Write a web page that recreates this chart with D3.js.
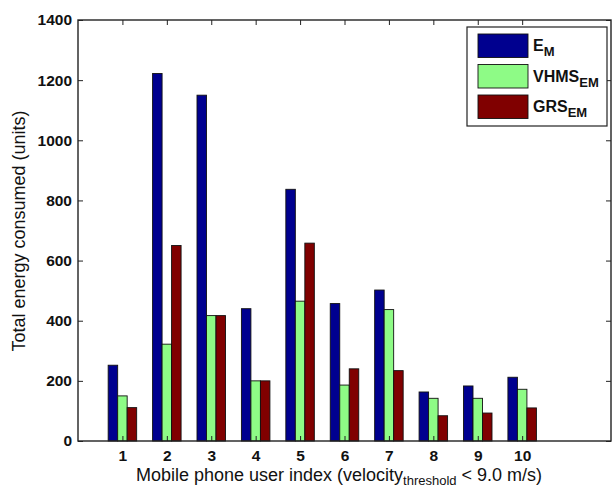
<!DOCTYPE html>
<html>
<head>
<meta charset="utf-8">
<script src="https://cdn.jsdelivr.net/npm/d3@7"></script>
<style>
  html, body { margin: 0; padding: 0; background: #fff; }
  svg { display: block; font-family: "Liberation Sans", Arial, Helvetica, sans-serif; }
</style>
</head>
<body>
<svg id="chart" width="612" height="489"></svg>
<script>
// Energy consumed per mobile phone user, three schemes
const users = [1, 2, 3, 4, 5, 6, 7, 8, 9, 10];
const energyEM   = [252, 1222, 1150, 440, 837, 457, 502, 163, 183, 212];
const energyVHMS = [150, 322, 417, 200, 465, 186, 437, 142, 142, 172];
const energyGRS  = [111, 650, 417, 200, 658, 240, 234, 84, 93, 110];
const yTicks = [0, 200, 400, 600, 800, 1000, 1200, 1400];

const series = [
  { main: "E", sub: "M", values: energyEM, color: "#00008f" },
  { main: "VHMS", sub: "EM", values: energyVHMS, color: "#8efb86" },
  { main: "GRS", sub: "EM", values: energyGRS, color: "#800000" }
];

const svg = d3.select("#chart");
const plot = { left: 78, right: 611, top: 20, bottom: 441 };

const x = d3.scaleLinear().domain([0, 12]).range([plot.left, plot.right]);
const y = d3.scaleLinear().domain([0, 1400]).range([plot.bottom, plot.top]);
const barW = 9.5;

// bars
series.forEach((s, k) => {
  svg.append("g")
    .selectAll("rect")
    .data(users)
    .join("rect")
    .attr("x", (d, i) => x(d) + (k - 1) * barW - barW / 2)
    .attr("y", (d, i) => y(s.values[i]))
    .attr("width", barW)
    .attr("height", (d, i) => y(0) - y(s.values[i]))
    .attr("fill", s.color)
    .attr("stroke", "#111")
    .attr("stroke-width", 0.9);
});

// axes with inward ticks on all four sides
const tickFont = g => g.selectAll("text")
  .attr("font-size", "15.5px").attr("font-weight", "bold").attr("fill", "#111");

svg.append("g")
  .attr("transform", `translate(${plot.left},0)`)
  .call(d3.axisLeft(y).tickValues(yTicks).tickFormat(d3.format("d"))
    .tickSizeInner(-5).tickSizeOuter(0).tickPadding(6))
  .call(g => g.select(".domain").remove())
  .call(tickFont);

svg.append("g")
  .attr("transform", `translate(0,${plot.bottom})`)
  .call(d3.axisBottom(x).tickValues(users).tickFormat(d3.format("d"))
    .tickSizeInner(-5).tickSizeOuter(0).tickPadding(9))
  .call(g => g.select(".domain").remove())
  .call(tickFont);

svg.append("g")
  .attr("transform", `translate(${plot.right},0)`)
  .call(d3.axisRight(y).tickValues(yTicks).tickSizeInner(-5).tickSizeOuter(0).tickFormat(""))
  .call(g => g.select(".domain").remove());

svg.append("g")
  .attr("transform", `translate(0,${plot.top})`)
  .call(d3.axisTop(x).tickValues(users).tickSizeInner(-5).tickSizeOuter(0).tickFormat(""))
  .call(g => g.select(".domain").remove());

svg.selectAll(".tick line").attr("stroke", "#222");

// axes box
svg.append("rect")
  .attr("x", plot.left).attr("y", plot.top)
  .attr("width", plot.right - plot.left).attr("height", plot.bottom - plot.top)
  .attr("fill", "none").attr("stroke", "#222").attr("stroke-width", 1.4);

// axis titles
svg.append("text")
  .attr("transform", "translate(25,231) rotate(-90)")
  .attr("text-anchor", "middle")
  .attr("font-size", "18px")
  .attr("fill", "#111")
  .text("Total energy consumed (units)");

const xl = svg.append("text")
  .attr("x", 339).attr("y", 481)
  .attr("text-anchor", "middle")
  .attr("font-size", "18px")
  .attr("fill", "#111");
xl.append("tspan").text("Mobile phone user index (velocity");
xl.append("tspan").attr("font-size", "13px").attr("dy", 4).text("threshold");
xl.append("tspan").attr("dy", -4).text(" < 9.0 m/s)");

// legend
const legend = svg.append("g");
legend.append("rect")
  .attr("x", 467).attr("y", 27).attr("width", 140).attr("height", 99)
  .attr("fill", "#fff").attr("stroke", "#222").attr("stroke-width", 1.2);

series.forEach((s, k) => {
  const top = 34 + k * 30.5;
  legend.append("rect")
    .attr("x", 478).attr("y", top).attr("width", 50).attr("height", 23.5)
    .attr("fill", s.color).attr("stroke", "#111").attr("stroke-width", 0.9);
  const t = legend.append("text")
    .attr("x", 533).attr("y", top + 17)
    .attr("font-size", "16px").attr("font-weight", "bold").attr("fill", "#111");
  t.append("tspan").text(s.main);
  t.append("tspan").attr("font-size", "13px").attr("dy", 5).text(s.sub);
});
</script>
</body>
</html>
